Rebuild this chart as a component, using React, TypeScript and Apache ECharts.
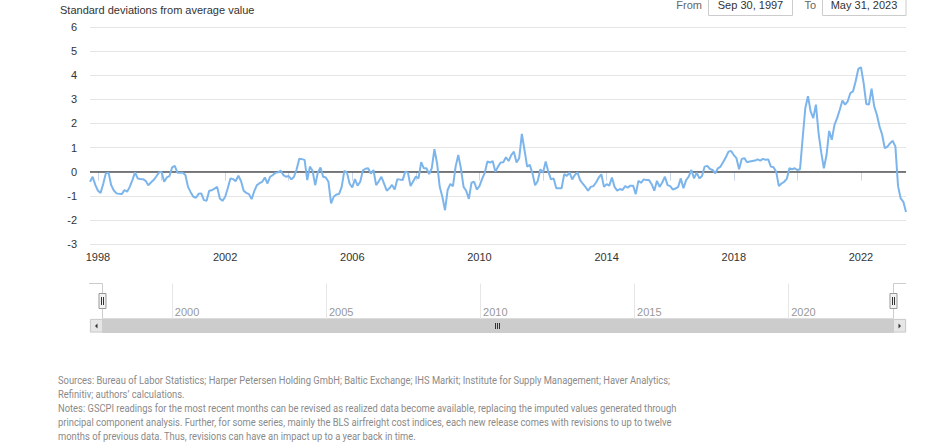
import React, { useEffect, useRef } from "react";
import * as echarts from "echarts";

// Sep 30, 1997 .. May 31, 2023 as fractional years
const START_YEAR = 1997.75;
const END_YEAR = 2023 + 5 / 12;

// GSCPI monthly values, starting Sep 1997
const gscpi = [
  -0.42, -0.21, -0.55, -0.79, -0.88, -0.5, -0.07, -0.04, -0.56, -0.78, -0.9, -0.92,
  -0.93, -0.76, -0.83, -0.63, -0.35, -0.03, -0.28, -0.3, -0.31, -0.38, -0.56, -0.45,
  -0.35, -0.2, -0.04, 0.0, -0.42, -0.24, -0.18, 0.18, 0.24, -0.04, -0.04, -0.04,
  -0.14, -0.63, -0.85, -1.04, -1.08, -0.92, -0.9, -1.18, -1.21, -0.79, -0.77, -0.7,
  -0.63, -1.11, -1.21, -1.05, -0.69, -0.28, -0.31, -0.39, -0.17, -0.39, -0.79, -0.88,
  -0.93, -1.14, -0.81, -0.56, -0.48, -0.42, -0.24, -0.49, -0.21, -0.14, -0.05, -0.03,
  0.04, -0.14, -0.21, -0.18, -0.32, -0.21, 0.1, 0.54, 0.52, 0.49, -0.35, 0.21,
  0.04, -0.56, -0.04, 0.17, -0.21, -0.24, -0.42, -1.32, -1.04, -0.95, -0.93, -0.63,
  0.03, -0.04, -0.5, -0.65, -0.31, -0.58, -0.42, 0.05, 0.12, 0.14, -0.08, 0.07,
  -0.56, -0.4, -0.21, -0.5, -0.79, -0.69, -0.55, -0.74, -0.31, -0.33, -0.35, 0.0,
  -0.04, -0.6, -0.4, -0.2, -0.28, 0.39, 0.14, 0.14, -0.1, 0.14, 0.93, 0.35,
  -0.63, -1.04, -1.6, -0.76, -0.51, -0.6, 0.21, 0.69, 0.14, -0.63, -0.79, -1.13,
  -0.46, -0.42, -0.74, -0.6, -0.3, -0.05, 0.42, 0.38, 0.44, 0.0, 0.21, 0.38,
  0.39, 0.6, 0.44, 0.69, 0.83, 0.38, 0.56, 1.57, 0.9, 0.21, 0.28, -0.07,
  -0.56, -0.39, 0.1, -0.04, 0.42, 0.0, -0.32, -0.28, -0.69, -0.69, -0.69, -0.1,
  -0.18, -0.03, -0.32, -0.14, -0.03, -0.35, -0.5, -0.63, -0.79, -0.63, -0.6, -0.45,
  -0.25, -0.11, -0.63, -0.52, -0.58, -0.24, -0.63, -0.79, -0.72, -0.76, -0.6, -0.66,
  -0.58, -0.58, -0.93, -0.38, -0.46, -0.32, -0.35, -0.35, -0.52, -0.79, -0.38, -0.63,
  -0.45, -0.21, -0.56, -0.6, -0.74, -0.7, -0.63, -0.28, -0.69, -0.35, -0.21, 0.07,
  -0.28, -0.04, -0.28, -0.18, 0.21, 0.24, 0.11, 0.07, -0.07, 0.14, 0.21, 0.4,
  0.6, 0.83, 0.86, 0.69, 0.56, 0.1, 0.53, 0.56, 0.39, 0.42, 0.44, 0.46,
  0.51, 0.46, 0.53, 0.49, 0.51, 0.21, 0.18, 0.0, -0.6, -0.49, -0.42, -0.3,
  0.14, 0.1, 0.14, 0.07, 0.1, 1.4, 2.64, 3.13, 2.5, 2.22, 2.78, 1.6,
  0.8, 0.14, 0.69, 1.69, 1.32, 1.94, 2.22, 2.57, 2.95, 2.78, 2.92, 3.26,
  3.33, 3.75, 4.26, 4.33, 3.68, 2.81, 2.78, 3.44, 2.71, 2.36, 1.88, 1.53,
  0.97, 1.04, 1.18, 1.28, 1.04, -0.6, -1.11, -1.25, -1.67,
];

const mainLabelYears = [1998, 2002, 2006, 2010, 2014, 2018, 2022];
const mainTickYears = [1998, 2000, 2002, 2004, 2006, 2008, 2010, 2012, 2014, 2016, 2018, 2020, 2022];
const navYears = [2000, 2005, 2010, 2015, 2020];
const yMin = -3;
const yMax = 6;

const axisTitle = "Standard deviations from average value";
const fromLabel = "From";
const toLabel = "To";
const fromDate = "Sep 30, 1997";
const toDate = "May 31, 2023";

const footerLines = [
  "Sources: Bureau of Labor Statistics; Harper Petersen Holding GmbH; Baltic Exchange; IHS Markit; Institute for Supply Management; Haver Analytics;",
  "Refinitiv; authors\u2019 calculations.",
  "Notes: GSCPI readings for the most recent months can be revised as realized data become available, replacing the imputed values generated through",
  "principal component analysis. Further, for some series, mainly the BLS airfreight cost indices, each new release comes with revisions to up to twelve",
  "months of previous data. Thus, revisions can have an impact up to a year back in time.",
];

const FONT = "'Liberation Sans', Arial, sans-serif";
const FOOT_FONT = "11.5px Roboto";

export default function App() {
  const ref = useRef<HTMLDivElement>(null);

  useEffect(() => {
    if (!ref.current) return;
    const chart = echarts.init(ref.current, undefined, { renderer: "svg" });

    let footScale = 0.82;
    try {
      const ctx = document.createElement("canvas").getContext("2d");
      if (ctx) {
        ctx.font = FOOT_FONT;
        const w = ctx.measureText(footerLines[0]).width;
        if (w > 0) footScale = 613 / w;
      }
    } catch (e) {}

    const seriesData = gscpi.map((v, i) => [START_YEAR + i / 12, v]);

    const graphics: any[] = [
      {
        type: "text",
        x: 60,
        y: 10,
        style: { text: axisTitle, font: `11px ${FONT}`, fill: "#333333", verticalAlign: "middle" },
      },
      {
        type: "text",
        x: 702,
        y: 5,
        style: { text: fromLabel, font: `11px ${FONT}`, fill: "#666666", align: "right", verticalAlign: "middle" },
      },
      {
        type: "rect",
        shape: { x: 708.5, y: -5.5, width: 84, height: 21 },
        style: { fill: "#ffffff", stroke: "#cccccc", lineWidth: 1 },
      },
      {
        type: "text",
        x: 750.5,
        y: 5,
        style: { text: fromDate, font: `11px ${FONT}`, fill: "#333333", align: "center", verticalAlign: "middle" },
      },
      {
        type: "text",
        x: 816,
        y: 5,
        style: { text: toLabel, font: `11px ${FONT}`, fill: "#666666", align: "right", verticalAlign: "middle" },
      },
      {
        type: "rect",
        shape: { x: 822.5, y: -5.5, width: 83.5, height: 21 },
        style: { fill: "#ffffff", stroke: "#cccccc", lineWidth: 1 },
      },
      {
        type: "text",
        x: 864,
        y: 5,
        style: { text: toDate, font: `11px ${FONT}`, fill: "#333333", align: "center", verticalAlign: "middle" },
      },
      // navigator outline
      {
        type: "polyline",
        shape: { points: [[89, 283.5], [102.5, 283.5], [102.5, 319], [893.5, 319], [893.5, 283.5], [906, 283.5]] },
        style: { stroke: "#cccccc", lineWidth: 1, fill: null },
      },
      // scrollbar track and thumb
      {
        type: "rect",
        shape: { x: 90, y: 319, width: 816, height: 13.5 },
        style: { fill: "#f2f2f2", stroke: "#f2f2f2" },
      },
      {
        type: "rect",
        shape: { x: 102.5, y: 319, width: 791, height: 13.5 },
        style: { fill: "#cccccc", stroke: "#cccccc" },
      },
      // buttons
      {
        type: "rect",
        shape: { x: 90.5, y: 319.5, width: 12, height: 12.5 },
        style: { fill: "#e6e6e6", stroke: "#cccccc", lineWidth: 1 },
      },
      {
        type: "rect",
        shape: { x: 893.5, y: 319.5, width: 12, height: 12.5 },
        style: { fill: "#e6e6e6", stroke: "#cccccc", lineWidth: 1 },
      },
      {
        type: "polygon",
        shape: { points: [[97.5, 323.5], [97.5, 328.5], [95, 326]] },
        style: { fill: "#333333" },
      },
      {
        type: "polygon",
        shape: { points: [[898.5, 323.5], [898.5, 328.5], [901, 326]] },
        style: { fill: "#333333" },
      },
      ...[0, 1, 2].map((k) => ({
        type: "line",
        shape: { x1: 495.5 + k * 2, y1: 323, x2: 495.5 + k * 2, y2: 329 },
        style: { stroke: "#333333", lineWidth: 1 },
      })),
      // handles
      ...[102.5, 893.5].flatMap((hx) => [
        {
          type: "rect",
          shape: { x: hx - 3.5, y: 293.5, width: 7, height: 15 },
          style: { fill: "#f2f2f2", stroke: "#999999", lineWidth: 1 },
        },
        {
          type: "line",
          shape: { x1: hx - 1, y1: 297, x2: hx - 1, y2: 305 },
          style: { stroke: "#333333", lineWidth: 1 },
        },
        {
          type: "line",
          shape: { x1: hx + 1, y1: 297, x2: hx + 1, y2: 305 },
          style: { stroke: "#333333", lineWidth: 1 },
        },
      ]),
      // footer
      ...footerLines.map((t, k) => ({
        type: "text",
        x: 58,
        y: 380 + k * 14,
        scaleX: footScale,
        style: { text: t, font: FOOT_FONT, fill: "#8a8a8a", verticalAlign: "middle" },
      })),
    ];

    chart.setOption({
      animation: false,
      backgroundColor: "#ffffff",
      grid: [
        { left: 90, right: 30, top: 27, height: 217 },
        { left: 102.5, right: 42.5, top: 283.5, height: 35.5 },
      ],
      xAxis: [
        {
          type: "value",
          gridIndex: 0,
          min: START_YEAR,
          max: END_YEAR,
          axisLine: { show: true, lineStyle: { color: "#ccd6eb", width: 1 } },
          axisTick: {
            show: true,
            length: 9,
            customValues: mainTickYears,
            lineStyle: { color: "#ccd6eb" },
          },
          axisLabel: {
            customValues: mainLabelYears,
            color: "#333333",
            fontSize: 11,
            fontFamily: FONT,
            margin: 7,
            formatter: (v: number) => String(Math.round(v)),
          },
          splitLine: { show: false },
        },
        {
          type: "value",
          gridIndex: 1,
          min: START_YEAR,
          max: END_YEAR,
          axisLine: { show: false },
          axisTick: { show: false, customValues: navYears },
          axisLabel: {
            customValues: navYears,
            inside: true,
            align: "left",
            verticalAlign: "bottom",
            padding: [0, 0, 0, 3],
            margin: 1.5,
            color: "#999999",
            fontSize: 11,
            fontFamily: FONT,
            formatter: (v: number) => String(Math.round(v)),
          },
          splitLine: { show: true, lineStyle: { color: "#e6e6e6", width: 1 } },
        },
      ],
      yAxis: [
        {
          type: "value",
          gridIndex: 0,
          min: yMin,
          max: yMax,
          interval: 1,
          axisLine: { show: false },
          axisTick: { show: false },
          axisLabel: { color: "#333333", fontSize: 11, fontFamily: FONT, margin: 13 },
          splitLine: { show: true, lineStyle: { color: "#e6e6e6", width: 1 } },
        },
        {
          type: "value",
          gridIndex: 1,
          min: 0,
          max: 1,
          show: false,
        },
      ],
      series: [
        {
          type: "line",
          xAxisIndex: 0,
          yAxisIndex: 0,
          data: seriesData,
          showSymbol: false,
          symbol: "none",
          lineStyle: { color: "#7cb5ec", width: 2 },
          z: 3,
          markLine: {
            silent: true,
            symbol: ["none", "none"],
            label: { show: false },
            lineStyle: { color: "#555555", width: 1.5, type: "solid" },
            data: [{ yAxis: 0 }],
            z: 2,
          },
        },
      ],
      graphic: graphics,
    });

    return () => chart.dispose();
  }, []);

  return (
    <div
      ref={ref}
      style={{ position: "fixed", left: 0, top: 0, width: 936, height: 448, background: "#fff" }}
    />
  );
}
